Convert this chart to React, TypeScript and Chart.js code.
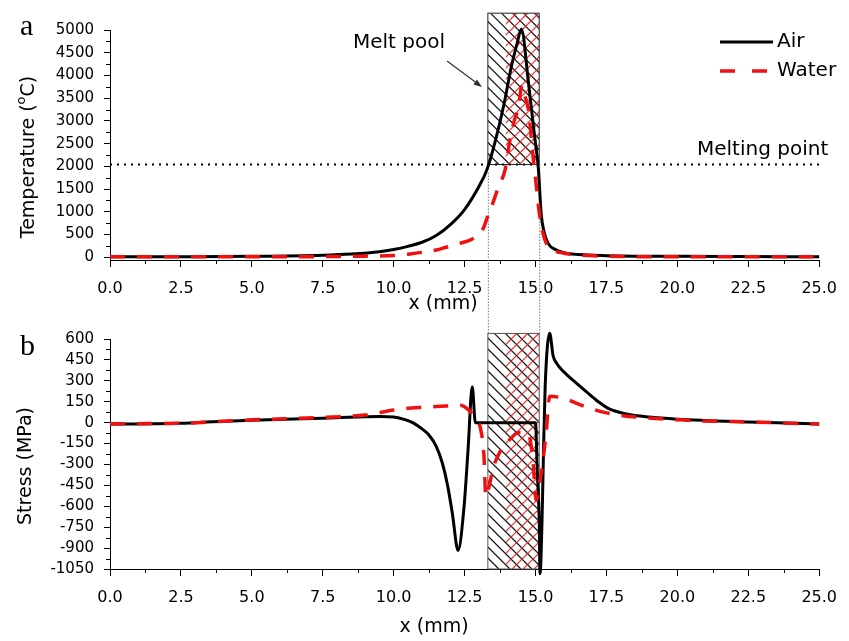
import React, { useEffect, useRef } from 'react';
import { Chart, registerables } from 'chart.js';
Chart.register(...registerables);

// ---------- data ----------
const xTicks = [0, 2.5, 5, 7.5, 10, 12.5, 15, 17.5, 20, 22.5, 25];
const xMinorTicks = [1.25, 3.75, 6.25, 8.75, 11.25, 13.75, 16.25, 18.75, 21.25, 23.75];
const tempTicks = [0, 500, 1000, 1500, 2000, 2500, 3000, 3500, 4000, 4500, 5000];
const tempMinorTicks = [250, 750, 1250, 1750, 2250, 2750, 3250, 3750, 4250, 4750];
const stressTicks = [-1050, -900, -750, -600, -450, -300, -150, 0, 150, 300, 450, 600];
const stressMinorTicks = [-975, -825, -675, -525, -375, -225, -75, 75, 225, 375, 525];

const airTempX = [0, 2.5, 5, 7.5, 8.5, 9.5, 10, 10.5, 11, 11.5, 12, 12.5, 13, 13.3, 13.6, 13.9, 14.15, 14.35, 14.5, 14.75, 14.95, 15.1, 15.2, 15.3, 15.45, 15.7, 16, 16.5, 17.5, 20, 22.5, 25];
const airTempY = [10, 12, 20, 45, 70, 120, 170, 240, 330, 480, 720, 1050, 1550, 1950, 2600, 3400, 4200, 4700, 5020, 3850, 2750, 1950, 950, 560, 300, 170, 100, 60, 35, 20, 15, 10];

const waterTempX = [0, 5, 7.5, 9, 10, 10.5, 11, 11.5, 11.85, 12.3, 12.77, 13.0, 13.17, 13.3, 13.46, 13.6, 13.7, 13.93, 14.1, 14.25, 14.4, 14.52, 14.65, 14.75, 14.9, 15.03, 15.15, 15.26, 15.4, 15.55, 16, 16.5, 17.5, 20, 25];
const waterTempY = [10, 10, 15, 25, 40, 66, 110, 160, 220, 300, 400, 520, 650, 880, 1130, 1380, 1560, 1930, 2590, 3000, 3300, 3780, 3500, 3250, 2300, 1560, 900, 540, 280, 175, 90, 50, 25, 10, 10];

const airStressX = [0, 2.5, 3, 5, 7.5, 9, 9.5, 10, 10.4, 10.67, 11, 11.25, 11.5, 11.72, 11.9, 12.07, 12.27, 12.48, 12.62, 12.77, 12.88, 15, 15.06, 15.13, 15.16, 15.23, 15.28, 15.34, 15.5, 15.62, 15.75, 15.9, 16.1, 16.4, 16.8, 17.2, 17.6, 18.2, 19, 20, 22.5, 25];
const airStressY = [-10, -5, 0, 18, 32, 42, 44, 40, 22, 0, -45, -90, -170, -293, -450, -653, -917, -605, -200, 257, 0, 0, -341, -700, -1084, -700, -220, 257, 641, 480, 425, 385, 345, 290, 220, 152, 98, 62, 40, 25, 5, -10];

const waterStressX = [0, 2.5, 5, 7.5, 9, 10, 10.45, 11, 11.84, 12.35, 12.65, 12.8, 12.95, 13.06, 13.18, 13.25, 13.35, 13.5, 13.8, 14.1, 14.4, 14.74, 14.9, 15.03, 15.15, 15.26, 15.38, 15.5, 16, 16.6, 17.5, 20, 22.5, 25];
const waterStressY = [-8, -4, 20, 37, 55, 90, 102, 110, 119, 125, 90, 55, 10, -40, -230, -530, -470, -330, -190, -120, -70, -78, -250, -557, -420, -280, -60, 189, 174, 126, 70, 20, 5, -10];

const MELTING_POINT = 2040;
const POOL_START = 13.32;
const POOL_END = 15.13;
const WATER_POOL_START = 13.95;
const POOL_TOP_TEMP = 5370;
const POOL_TOP_STRESS = 640;

const FONT = 'DejaVu Sans';

const pts = (xs: number[], ys: number[]) => xs.map((x, i) => ({ x, y: ys[i] }));

function hatch(ctx: CanvasRenderingContext2D, x0: number, y0: number, x1: number, y1: number, dir: number, spacing: number, color: string, lw: number) {
  ctx.save();
  ctx.beginPath();
  ctx.rect(x0, y0, x1 - x0, y1 - y0);
  ctx.clip();
  ctx.strokeStyle = color;
  ctx.lineWidth = lw;
  const h = y1 - y0;
  ctx.beginPath();
  if (dir > 0) {
    for (let x = x0 - h; x < x1; x += spacing) { ctx.moveTo(x, y0); ctx.lineTo(x + h, y1); }
  } else {
    for (let x = x0; x < x1 + h; x += spacing) { ctx.moveTo(x, y0); ctx.lineTo(x - h, y1); }
  }
  ctx.stroke();
  ctx.restore();
}

function dottedV(ctx: CanvasRenderingContext2D, x: number, yA: number, yB: number) {
  ctx.save();
  ctx.strokeStyle = '#777';
  ctx.lineWidth = 1;
  ctx.setLineDash([1.5, 1.5]);
  ctx.beginPath();
  ctx.moveTo(x + 0.5, yA);
  ctx.lineTo(x + 0.5, yB);
  ctx.stroke();
  ctx.restore();
}

function minorTicks(chart: any, xs: number[], ys: number[]) {
  const { ctx, scales: { x, y } } = chart;
  ctx.save();
  ctx.strokeStyle = '#000';
  ctx.lineWidth = 1;
  ctx.beginPath();
  xs.forEach((v) => {
    const px = Math.round(x.getPixelForValue(v)) + 0.5;
    ctx.moveTo(px, x.top);
    ctx.lineTo(px, x.top + 4);
  });
  ys.forEach((v) => {
    const py = Math.round(y.getPixelForValue(v)) + 0.5;
    ctx.moveTo(y.right - 4, py);
    ctx.lineTo(y.right, py);
  });
  ctx.stroke();
  ctx.restore();
}

function text(ctx: CanvasRenderingContext2D, s: string, x: number, y: number, font: string, align: CanvasTextAlign = 'left', base: CanvasTextBaseline = 'alphabetic') {
  ctx.save();
  ctx.fillStyle = '#000';
  ctx.font = font;
  ctx.textAlign = align;
  ctx.textBaseline = base;
  ctx.fillText(s, x, y);
  ctx.restore();
}

function xScale(height: number, pad: number) {
  return {
    type: 'linear',
    min: 0,
    max: 25,
    afterBuildTicks: (s: any) => { s.ticks = xTicks.map((v) => ({ value: v })); },
    afterFit: (s: any) => { s.height = height; },
    ticks: {
      callback: (v: any) => Number(v).toFixed(1),
      font: { family: FONT, size: 16 },
      color: '#000',
      padding: pad,
      maxRotation: 0,
      autoSkip: false,
    },
    grid: { display: true, drawOnChartArea: false, drawTicks: true, tickLength: 7, color: '#000', tickColor: '#000' },
    border: { display: true, color: '#000', width: 1 },
  };
}

function yScale(min: number, max: number, ticks: number[]) {
  return {
    type: 'linear',
    min,
    max,
    afterBuildTicks: (s: any) => { s.ticks = ticks.map((v) => ({ value: v })); },
    afterFit: (s: any) => { s.width = 110; },
    ticks: {
      callback: (v: any) => String(v),
      font: { family: FONT, size: 15 },
      color: '#000',
      padding: 10,
      autoSkip: false,
    },
    grid: { display: true, drawOnChartArea: false, drawTicks: true, tickLength: 6, color: '#000', tickColor: '#000' },
    border: { display: true, color: '#000', width: 1 },
  };
}

const airStyle = { borderColor: '#000', borderWidth: 3, pointRadius: 0, cubicInterpolationMode: 'monotone', borderJoinStyle: 'round', clip: false, order: 1, fill: false };
const waterStyle = { borderColor: '#f01010', borderWidth: 3.5, borderDash: [15, 12], pointRadius: 0, cubicInterpolationMode: 'monotone', borderJoinStyle: 'round', clip: false, order: 0, fill: false };

const topPlugin = {
  id: 'topDecor',
  beforeDatasetsDraw(chart: any) {
    const { ctx, scales: { x, y } } = chart;
    const px0 = x.getPixelForValue(POOL_START);
    const px1 = x.getPixelForValue(POOL_END);
    const pw = x.getPixelForValue(WATER_POOL_START);
    const yTop = y.getPixelForValue(POOL_TOP_TEMP);
    const yBot = y.getPixelForValue(MELTING_POINT);
    hatch(ctx, px0, yTop, px1, yBot, 1, 11, '#111', 1.2);
    hatch(ctx, pw, yTop, px1, yBot, -1, 11, 'rgba(235,30,30,0.85)', 1.3);
    ctx.save();
    ctx.strokeStyle = '#222';
    ctx.lineWidth = 1;
    ctx.strokeRect(px0, yTop, px1 - px0, yBot - yTop);
    ctx.restore();
    // melting point line
    ctx.save();
    ctx.strokeStyle = '#000';
    ctx.lineWidth = 2;
    ctx.setLineDash([2, 5]);
    ctx.beginPath();
    ctx.moveTo(x.left, yBot);
    ctx.lineTo(x.right, yBot);
    ctx.stroke();
    ctx.restore();
    dottedV(ctx, px0, yBot + 8, chart.height);
    dottedV(ctx, px1, yBot, chart.height);
  },
  afterDraw(chart: any) {
    const { ctx } = chart;
    minorTicks(chart, xMinorTicks, tempMinorTicks);
    text(ctx, 'a', 20, 35, '30px "Liberation Serif"');
    text(ctx, 'Melt pool', 353, 48, `20px "${FONT}"`);
    // arrow
    ctx.save();
    ctx.strokeStyle = '#333';
    ctx.fillStyle = '#333';
    ctx.lineWidth = 1.2;
    ctx.beginPath();
    ctx.moveTo(447, 61);
    ctx.lineTo(478, 84);
    ctx.stroke();
    const ang = Math.atan2(86 - 61, 481 - 447);
    ctx.beginPath();
    ctx.moveTo(482, 87);
    ctx.lineTo(482 - 9 * Math.cos(ang - 0.35), 87 - 9 * Math.sin(ang - 0.35));
    ctx.lineTo(482 - 9 * Math.cos(ang + 0.35), 87 - 9 * Math.sin(ang + 0.35));
    ctx.closePath();
    ctx.fill();
    ctx.restore();
    text(ctx, 'Melting point', 697, 155, `20px "${FONT}"`);
    // legend
    ctx.save();
    ctx.lineWidth = 3;
    ctx.strokeStyle = '#000';
    ctx.beginPath();
    ctx.moveTo(720, 42);
    ctx.lineTo(773, 42);
    ctx.stroke();
    ctx.strokeStyle = '#f01010';
    ctx.lineWidth = 3.5;
    ctx.setLineDash([15, 17]);
    ctx.beginPath();
    ctx.moveTo(720, 71);
    ctx.lineTo(773, 71);
    ctx.stroke();
    ctx.restore();
    text(ctx, 'Air', 777, 42, `20px "${FONT}"`, 'left', 'middle');
    text(ctx, 'Water', 777, 71, `20px "${FONT}"`, 'left', 'middle');
    // x title
    text(ctx, 'x (mm)', 443, 304, `19px "${FONT}"`, 'center', 'middle');
    // y title with superscript
    ctx.save();
    ctx.translate(34, 157);
    ctx.rotate(-Math.PI / 2);
    ctx.fillStyle = '#000';
    ctx.textBaseline = 'alphabetic';
    const f1 = `19px "${FONT}"`;
    const f2 = `13px "${FONT}"`;
    ctx.font = f1;
    const w1 = ctx.measureText('Temperature (').width;
    const w3 = ctx.measureText('C)').width;
    ctx.font = f2;
    const w2 = ctx.measureText('o').width;
    let cx = -(w1 + w2 + w3) / 2;
    ctx.font = f1;
    ctx.fillText('Temperature (', cx, 0);
    cx += w1;
    ctx.font = f2;
    ctx.fillText('o', cx, -9);
    cx += w2;
    ctx.font = f1;
    ctx.fillText('C)', cx, 0);
    ctx.restore();
  },
};

const bottomPlugin = {
  id: 'bottomDecor',
  beforeDatasetsDraw(chart: any) {
    const { ctx, scales: { x, y } } = chart;
    const px0 = x.getPixelForValue(POOL_START);
    const px1 = x.getPixelForValue(POOL_END);
    const pw = x.getPixelForValue(WATER_POOL_START);
    const yTop = y.getPixelForValue(POOL_TOP_STRESS);
    const yBot = y.bottom;
    hatch(ctx, px0, yTop, px1, yBot, 1, 11, '#111', 1.2);
    hatch(ctx, pw, yTop, px1, yBot, -1, 11, 'rgba(235,30,30,0.85)', 1.3);
    ctx.save();
    ctx.strokeStyle = '#555';
    ctx.lineWidth = 1;
    ctx.strokeRect(px0, yTop, px1 - px0, yBot - yTop);
    ctx.restore();
    dottedV(ctx, px0, 0, yTop);
    dottedV(ctx, px1, 0, yTop);
  },
  afterDraw(chart: any) {
    const { ctx } = chart;
    minorTicks(chart, xMinorTicks, stressMinorTicks);
    text(ctx, 'b', 20, 35, '30px "Liberation Serif"');
    text(ctx, 'x (mm)', 434, 307, `19px "${FONT}"`, 'center', 'middle');
    ctx.save();
    ctx.translate(26, 146);
    ctx.rotate(-Math.PI / 2);
    ctx.fillStyle = '#000';
    ctx.font = `19px "${FONT}"`;
    ctx.textAlign = 'center';
    ctx.textBaseline = 'middle';
    ctx.fillText('Stress (MPa)', 0, 0);
    ctx.restore();
  },
};

function baseOptions(padTop: number, xs: any, ys: any) {
  return {
    animation: false,
    responsive: true,
    maintainAspectRatio: false,
    layout: { padding: { top: padTop, right: 21, left: 0, bottom: 0 } },
    plugins: { legend: { display: false }, tooltip: { enabled: false } },
    elements: { point: { radius: 0 } },
    scales: { x: xs, y: ys },
  };
}

export default function App() {
  const topRef = useRef<HTMLCanvasElement>(null);
  const botRef = useRef<HTMLCanvasElement>(null);

  useEffect(() => {
    const c1 = new Chart(topRef.current as HTMLCanvasElement, {
      type: 'line',
      data: {
        datasets: [
          { label: 'Air', data: pts(airTempX, airTempY), ...airStyle } as any,
          { label: 'Water', data: pts(waterTempX, waterTempY), ...waterStyle } as any,
        ],
      },
      options: baseOptions(30, xScale(60, 12), yScale(-60, 5000, tempTicks)) as any,
      plugins: [topPlugin],
    });
    const c2 = new Chart(botRef.current as HTMLCanvasElement, {
      type: 'line',
      data: {
        datasets: [
          { label: 'Air', data: pts(airStressX, airStressY), ...airStyle } as any,
          { label: 'Water', data: pts(waterStressX, waterStressY), ...waterStyle } as any,
        ],
      },
      options: baseOptions(19, xScale(72, 12), yScale(-1050, 600, stressTicks)) as any,
      plugins: [bottomPlugin],
    });
    return () => {
      c1.destroy();
      c2.destroy();
    };
  }, []);

  return (
    <div style={{ position: 'absolute', left: 0, top: 0, width: 849, height: 641, background: '#fff' }}>
      <div style={{ position: 'absolute', left: 0, top: 0, width: 849, height: 320 }}>
        <canvas ref={topRef} />
      </div>
      <div style={{ position: 'absolute', left: 0, top: 320, width: 849, height: 321 }}>
        <canvas ref={botRef} />
      </div>
    </div>
  );
}
